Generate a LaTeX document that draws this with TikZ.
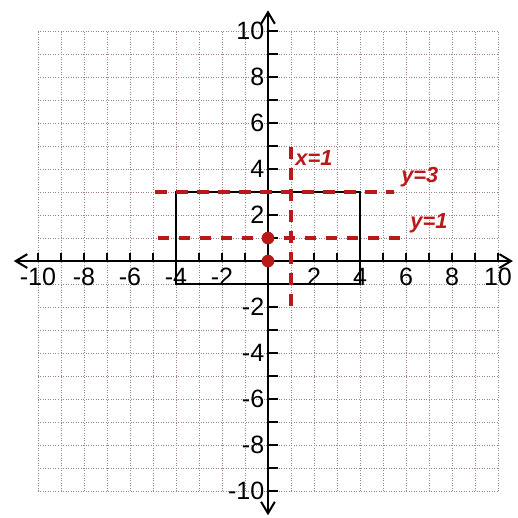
\documentclass[tikz,border=0pt]{standalone}
\usepackage{fontspec}
\setmainfont{Liberation Sans}
\usetikzlibrary{arrows.meta}
\definecolor{pen}{RGB}{185,25,25}
\definecolor{gridc}{RGB}{160,130,135}
\begin{document}
\begin{tikzpicture}[x=1cm,y=1cm,
  gridline/.style={draw=gridc, line width=1.1pt, dotted},
  axis/.style={line width=3pt, {Straight Barb[length=5mm,width=6mm,line width=2.5pt]}-{Straight Barb[length=5mm,width=6mm,line width=2.5pt]}},
  tickmark/.style={line width=2.5pt},
  ticklab/.style={font=\fontsize{31}{34}\selectfont, inner sep=1pt},
  guide/.style={draw=pen, line width=4.5pt, dash pattern=on 14pt off 12pt},
  hand/.style={text=pen, font=\fontsize{27}{30}\selectfont\bfseries\itshape, inner sep=1pt},
  box/.style={line width=3pt},
  dotpt/.style={circle, fill=pen, inner sep=0pt, minimum size=0.55cm}]
\useasboundingbox (-11.65,-11.17) rectangle (10.83,11.35);
\fill[white] (-11.65,-11.17) rectangle (10.83,11.35);
% grid
\foreach \i in {-10,...,10} {
  \draw[gridline] (\i,-10) -- (\i,10);
  \draw[gridline] (-10,\i) -- (10,\i);
}
% axes
\coordinate (xl) at (-11.05,0);
\coordinate (xr) at (10.65,0);
\coordinate (yt) at (0,10.9);
\coordinate (yb) at (0,-11.05);
\draw[axis] (xl) -- (xr);
\draw[axis] (yb) -- (yt);
% ticks
\foreach \i in {-10,...,10} {
  \draw[tickmark] (\i,0) -- (\i,0.35);
  \draw[tickmark] (0,\i) -- (0.45,\i);
}
% tick labels
\foreach \i in {-10,-8,-6,-4,-2,2,4,6,8,10} {
  \node[ticklab] (xlab\i) at (\i,-0.7) {\i};
  \node[ticklab, anchor=east] (ylab\i) at (-0.12,\i) {\i};
}
% rectangle
\coordinate (r1) at (-4,-1);
\coordinate (r2) at (4,3);
\draw[box] (r1) rectangle (r2);
% red guide lines
\coordinate (a1) at (-4.9,3);
\coordinate (a2) at (5.5,3);
\coordinate (b1) at (-4.8,1);
\coordinate (b2) at (5.8,1);
\coordinate (c1) at (1,4.95);
\coordinate (c2) at (1,-2.05);
\draw[guide] (a1) -- (a2);
\draw[guide] (b1) -- (b2);
\draw[guide] (c1) -- (c2);
\node[hand] (ly3) at (6.6,3.65) {y=3};
\node[hand] (ly1) at (7.0,1.65) {y=1};
\node[hand] (lx1) at (2.0,4.5) {x=1};
% points
\node[dotpt] (p1) at (0,1) {};
\node[dotpt] (p0) at (0,0) {};
\end{tikzpicture}
\end{document}
